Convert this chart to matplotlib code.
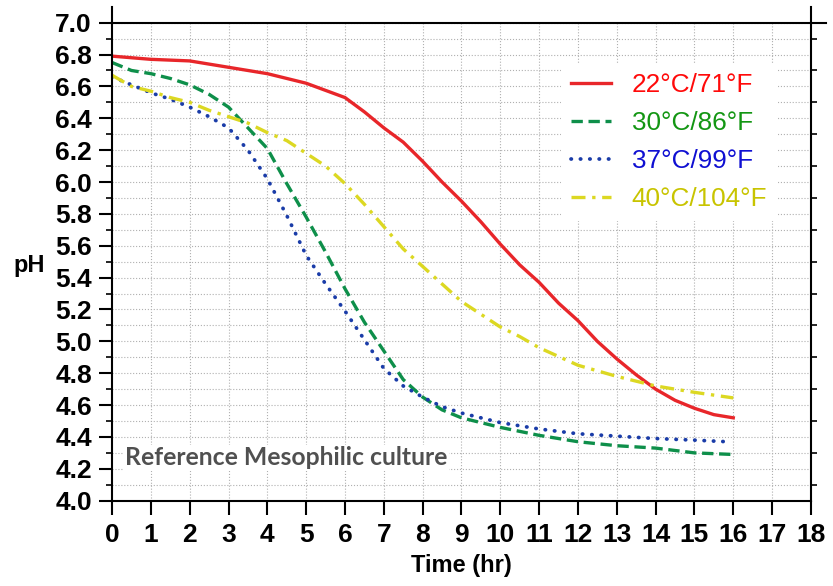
import matplotlib
matplotlib.use('Agg')
import matplotlib.pyplot as plt
from matplotlib.ticker import MultipleLocator, FixedLocator
import numpy as np

# values (time in hr, pH)
t_22 = [0, 1, 2, 3, 4, 5, 6, 6.5, 7, 7.5, 8, 8.5, 9, 9.5, 10, 10.5, 11, 11.5,
        12, 12.5, 13, 13.5, 14, 14.5, 15, 15.5, 16]
ph_22 = [6.79, 6.77, 6.76, 6.72, 6.68, 6.62, 6.53, 6.44, 6.34, 6.25, 6.13, 6.00,
         5.88, 5.75, 5.61, 5.48, 5.37, 5.24, 5.13, 5.00, 4.89, 4.79, 4.70, 4.63,
         4.58, 4.54, 4.52]

t_30 = [0, 0.5, 1, 1.5, 2, 2.5, 3, 3.5, 4, 4.5, 5, 5.5, 6, 6.5, 7, 7.5, 8, 8.5,
        9, 10, 11, 12, 13, 14, 15, 16]
ph_30 = [6.75, 6.70, 6.68, 6.65, 6.61, 6.55, 6.47, 6.34, 6.21, 5.99, 5.78, 5.56,
         5.33, 5.12, 4.94, 4.76, 4.65, 4.57, 4.52, 4.46, 4.41, 4.37, 4.345, 4.33,
         4.30, 4.29]

t_37 = [0, 0.5, 1, 1.5, 2, 2.5, 3, 3.5, 4, 4.5, 5, 5.5, 6, 6.5, 7, 7.5, 8, 8.5,
        9, 10, 11, 12, 13, 14, 15, 15.85]
ph_37 = [6.66, 6.61, 6.56, 6.52, 6.47, 6.41, 6.34, 6.20, 6.02, 5.79, 5.54, 5.36,
         5.19, 5.01, 4.83, 4.72, 4.65, 4.59, 4.55, 4.49, 4.45, 4.42, 4.405, 4.39,
         4.38, 4.37]

t_40 = [0, 0.5, 1, 1.5, 2, 2.5, 3, 3.5, 4, 4.5, 5, 5.5, 6, 6.5, 7, 7.5, 8, 8.5,
        9, 9.5, 10, 10.5, 11, 12, 13, 14, 15, 16]
ph_40 = [6.67, 6.60, 6.57, 6.53, 6.50, 6.45, 6.41, 6.37, 6.31, 6.26, 6.18, 6.10,
         5.99, 5.86, 5.72, 5.58, 5.47, 5.36, 5.25, 5.17, 5.09, 5.03, 4.96, 4.85,
         4.78, 4.72, 4.68, 4.645]

labels = ['22°C/71°F', '30°C/86°F', '37°C/99°F', '40°C/104°F']
line_colors = ['#e8262a', '#0e8f4a', '#1a3ca8', '#dcd822']
text_colors = ['#ff0a0a', '#139613', '#0f0fd2', '#c8c400']

FONT = ['Liberation Sans', 'DejaVu Sans']
LW = 2.4

fig = plt.figure(figsize=(8.33, 5.86), dpi=100)
ax = fig.add_axes([0.1345, 0.1456, 0.839, 0.8157])

styles = [dict(linestyle='-', lw=LW),
          dict(linestyle=(0, (3.4, 1.7)), lw=LW),
          dict(linestyle=(0, (0.1, 2.4)), dash_capstyle='round', lw=2.7),
          dict(linestyle=(0, (4.2, 2.0, 1.0, 2.0)), lw=LW)]
series = [(t_22, ph_22), (t_30, ph_30), (t_37, ph_37), (t_40, ph_40)]
for (t, ph), lab, c, st in zip(series, labels, line_colors, styles):
    ax.plot(t, ph, color=c, label=lab, **st)

ax.set_xlim(0, 18)
ax.set_ylim(4.0, 7.0)

# grid: every hour, every 0.1 pH
for x in range(1, 18):
    ax.axvline(x, color='#b0b0b0', lw=0.8, ls=':', zorder=0)
for y in np.arange(4.1, 7.0, 0.1):
    ax.axhline(y, color='#b0b0b0', lw=0.8, ls=':', zorder=0)

ax.xaxis.set_major_locator(MultipleLocator(1))
ax.yaxis.set_major_locator(MultipleLocator(0.2))
ax.yaxis.set_minor_locator(FixedLocator(np.arange(4.1, 7.0, 0.2)))
ax.yaxis.set_major_formatter(plt.FormatStrFormatter('%.1f'))
ax.tick_params(axis='x', direction='out', length=10, width=1.5, pad=6)
ax.tick_params(axis='y', which='major', direction='out', length=9.5, width=1.5, pad=5)
ax.tick_params(axis='y', which='minor', direction='out', length=4.5, width=1.2,
               right=True)
for lbl in ax.get_xticklabels() + ax.get_yticklabels():
    lbl.set_family(FONT)
    lbl.set_fontweight('bold')
    lbl.set_fontsize(19)

for s in ax.spines.values():
    s.set_linewidth(1.5)
# spines poke out past the corners as in the original
ax.plot([0, 0], [1, 1.032], transform=ax.transAxes, color='k', lw=1.5, clip_on=False)
ax.plot([1, 1], [1, 1.032], transform=ax.transAxes, color='k', lw=1.5, clip_on=False)
ax.plot([1, 1.021], [1, 1], transform=ax.transAxes, color='k', lw=1.5, clip_on=False)

ax.set_xlabel('Time (hr)', family=FONT, fontweight='bold', fontsize=17, labelpad=5)
ax.set_ylabel('pH', family=FONT, fontweight='bold', fontsize=17, rotation=0,
              ha='center', va='center')
ax.yaxis.set_label_coords(-0.119, 0.493)

ax.text(0.33, 4.27, 'Reference Mesophilic culture', family=['Lato', 'DejaVu Sans'],
        fontweight='bold', fontsize=17.8, color='#505050', va='center', ha='left',
        bbox=dict(facecolor='white', edgecolor='none', pad=1))

leg = ax.legend(loc='upper left', bbox_to_anchor=(0.623, 0.943), frameon=True,
                framealpha=1, edgecolor='none', fancybox=False,
                prop=dict(family=FONT, size=18.8), handlelength=1.55,
                handletextpad=0.78, labelspacing=0.53, borderpad=0.4)
for txt, c in zip(leg.get_texts(), text_colors):
    txt.set_color(c)

fig.savefig('out.png', dpi=100)
